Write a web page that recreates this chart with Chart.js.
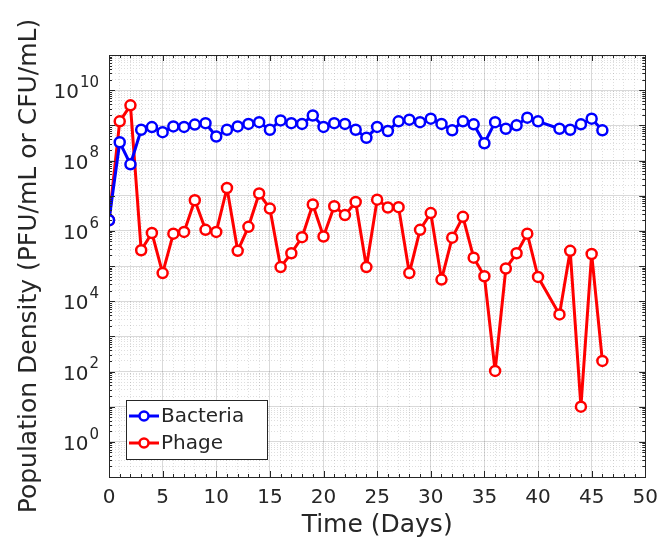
<!DOCTYPE html>
<html>
<head>
<meta charset="utf-8">
<script src="https://cdn.jsdelivr.net/npm/chart.js@4.4.0/dist/chart.umd.min.js"></script>
<style>
  html, body { margin: 0; padding: 0; background: #fff; }
</style>
</head>
<body>
<canvas id="myChart" width="667" height="542"></canvas>
<script>
// sampling days (day 41 was not measured)
var days = [0, 1, 2, 3, 4, 5, 6, 7, 8, 9, 10,
            11, 12, 13, 14, 15, 16, 17, 18, 19, 20,
            21, 22, 23, 24, 25, 26, 27, 28, 29, 30,
            31, 32, 33, 34, 35, 36, 37, 38, 39, 40,
            42, 43, 44, 45, 46];

var bacteria = [2e6, 3.3e8, 7.8e7, 7.5e8, 8.9e8, 6.4e8, 9.3e8, 9e8, 1.05e9, 1.15e9, 4.8e8,
                7.5e8, 9.3e8, 1.1e9, 1.23e9, 7.5e8, 1.38e9, 1.15e9, 1.1e9, 1.9e9, 9e8,
                1.15e9, 1.1e9, 7.5e8, 4.4e8, 9e8, 6.9e8, 1.3e9, 1.45e9, 1.23e9, 1.55e9,
                1.1e9, 7.2e8, 1.3e9, 1.07e9, 3.1e8, 1.23e9, 8e8, 1e9, 1.65e9, 1.3e9,
                8e8, 7.5e8, 1.07e9, 1.55e9, 7.2e8];

var phage = [2e6, 1.3e9, 3.7e9, 2.8e5, 8.7e5, 6.3e4, 8.3e5, 9.3e5, 7.4e6, 1.07e6, 9.3e5,
             1.65e7, 2.7e5, 1.3e6, 1.15e7, 4.3e6, 9.3e4, 2.3e5, 6.6e5, 5.6e6, 6.9e5,
             5e6, 2.8e6, 6.6e6, 9.3e4, 7.7e6, 4.6e6, 4.7e6, 6.3e4, 1.07e6, 3.2e6,
             4.1e4, 6.4e5, 2.5e6, 1.73e5, 5.1e4, 104, 8.5e4, 2.3e5, 8.3e5, 4.9e4,
             4.2e3, 2.7e5, 10, 2.2e5, 200];

var seriesNames = ['Bacteria', 'Phage'];
var xTickLabels = [0, 5, 10, 15, 20, 25, 30, 35, 40, 45, 50];
var yTickPowers = [0, 2, 4, 6, 8, 10];

var FONT = "'DejaVu Sans', sans-serif";
var TEXT = '#262626';

function toPoints(ys) {
    return days.map(function (d, i) { return { x: d, y: ys[i] }; });
}

function isDecade(v) {
    var l = Math.log10(v);
    return Math.abs(l - Math.round(l)) < 1e-6;
}

// all log ticks 1..9 x 10^k for the grid
function logTicks(min, max) {
    var out = [];
    for (var k = Math.round(Math.log10(min)); k <= Math.round(Math.log10(max)); k++) {
        for (var m = 1; m <= 9; m++) {
            var v = m * Math.pow(10, k);
            if (v >= min * 0.999 && v <= max * 1.001) out.push({ value: v });
        }
    }
    return out;
}

// y labels as 10 with raised exponent, tick marks, full box and legend
var matlabLook = {
    id: 'matlabLook',
    afterDraw: function (chart) {
        var ctx = chart.ctx;
        var a = chart.chartArea;
        var xs = chart.scales.x, ys = chart.scales.y;
        ctx.save();

        // inner tick marks on all four sides
        ctx.strokeStyle = TEXT;
        ctx.lineWidth = 1;
        ctx.beginPath();
        xs.ticks.forEach(function (t) {
            var px = Math.round(xs.getPixelForValue(t.value)) + 0.5;
            var len = t.value % 5 === 0 ? 6 : 3;
            ctx.moveTo(px, a.bottom); ctx.lineTo(px, a.bottom - len);
            ctx.moveTo(px, a.top); ctx.lineTo(px, a.top + len);
        });
        ys.ticks.forEach(function (t) {
            var py = Math.round(ys.getPixelForValue(t.value)) + 0.5;
            var len = isDecade(t.value) ? 6 : 3;
            ctx.moveTo(a.left, py); ctx.lineTo(a.left + len, py);
            ctx.moveTo(a.right, py); ctx.lineTo(a.right - len, py);
        });
        ctx.stroke();

        // box
        ctx.strokeRect(Math.round(a.left) + 0.5, Math.round(a.top) + 0.5,
                       Math.round(a.right - a.left), Math.round(a.bottom - a.top));

        // y tick labels
        ctx.fillStyle = TEXT;
        ctx.textBaseline = 'middle';
        ctx.textAlign = 'left';
        yTickPowers.forEach(function (p) {
            var py = ys.getPixelForValue(Math.pow(10, p));
            var base = '10', expo = String(p);
            ctx.font = '20px ' + FONT;
            var wb = ctx.measureText(base).width;
            ctx.font = '15px ' + FONT;
            var we = ctx.measureText(expo).width;
            var right = a.left - 10;
            ctx.font = '20px ' + FONT;
            ctx.fillText(base, right - we - wb - 1, py + 3);
            ctx.font = '15px ' + FONT;
            ctx.fillText(expo, right - we, py - 7);
        });

        // legend, south-west corner
        var lx = 126, ly = 400, lw = 141, lh = 59;
        ctx.fillStyle = '#fff';
        ctx.fillRect(lx, ly, lw, lh);
        ctx.strokeStyle = TEXT;
        ctx.lineWidth = 1;
        ctx.strokeRect(lx + 0.5, ly + 0.5, lw, lh);
        chart.data.datasets.forEach(function (ds, i) {
            var cy = ly + 16 + i * 27;
            ctx.strokeStyle = ds.borderColor;
            ctx.lineWidth = 3;
            ctx.beginPath();
            ctx.moveTo(lx + 3, cy); ctx.lineTo(lx + 33, cy);
            ctx.stroke();
            ctx.fillStyle = '#fff';
            ctx.lineWidth = 2.5;
            ctx.beginPath();
            ctx.arc(lx + 18, cy, 4.5, 0, Math.PI * 2);
            ctx.fill(); ctx.stroke();
            ctx.fillStyle = TEXT;
            ctx.font = '20px ' + FONT;
            ctx.textAlign = 'left';
            ctx.textBaseline = 'middle';
            ctx.fillText(ds.label, lx + 35, cy + 1);
        });
        ctx.restore();
    }
};

var ctx1 = document.getElementById('myChart').getContext('2d');
new Chart(ctx1, {
    type: 'line',
    data: {
        datasets: [{
            label: seriesNames[0],
            data: toPoints(bacteria),
            borderColor: '#0000ff',
            backgroundColor: '#ffffff',
            borderWidth: 3,
            borderJoinStyle: 'round',
            pointRadius: 5,
            pointBorderWidth: 2.5,
            pointBackgroundColor: '#ffffff',
            tension: 0
        }, {
            label: seriesNames[1],
            data: toPoints(phage),
            borderColor: '#ff0000',
            backgroundColor: '#ffffff',
            borderWidth: 3,
            borderJoinStyle: 'round',
            pointRadius: 5,
            pointBorderWidth: 2.5,
            pointBackgroundColor: '#ffffff',
            tension: 0
        }]
    },
    options: {
        responsive: false,
        animation: false,
        layout: { padding: { left: 0, right: 16, top: 55, bottom: 0 } },
        plugins: {
            legend: { display: false },
            tooltip: { enabled: false }
        },
        scales: {
            x: {
                type: 'linear',
                min: 0,
                max: 50,
                afterBuildTicks: function (scale) {
                    var t = [];
                    for (var i = 0; i <= 50; i++) t.push({ value: i });
                    scale.ticks = t;
                },
                afterFit: function (scale) { scale.height = 65; },
                ticks: {
                    autoSkip: false,
                    maxRotation: 0,
                    padding: 9,
                    color: TEXT,
                    font: { family: FONT, size: 20 },
                    callback: function (v) {
                        return xTickLabels.indexOf(v) >= 0 ? String(v) : '';
                    }
                },
                grid: {
                    drawTicks: false,
                    color: function (c) {
                        return c.tick && c.tick.value % 5 === 0 ? 'rgba(0,0,0,0.15)' : 'rgba(0,0,0,0.13)';
                    },
                    lineWidth: 1
                },
                border: {
                    display: false,
                    dash: function (c) {
                        return c.tick && c.tick.value % 5 !== 0 ? [1, 2] : [];
                    }
                },
                title: {
                    display: true,
                    text: 'Time (Days)',
                    color: TEXT,
                    font: { family: FONT, size: 25 },
                    padding: { top: 0, bottom: 2 }
                }
            },
            y: {
                type: 'logarithmic',
                min: 0.1,
                max: 1e11,
                afterBuildTicks: function (scale) {
                    scale.ticks = logTicks(0.1, 1e11);
                },
                afterFit: function (scale) { scale.width = 109; },
                ticks: { display: false },
                grid: {
                    drawTicks: false,
                    color: function (c) {
                        return c.tick && isDecade(c.tick.value) ? 'rgba(0,0,0,0.15)' : 'rgba(0,0,0,0.13)';
                    },
                    lineWidth: 1
                },
                border: {
                    display: false,
                    dash: function (c) {
                        return c.tick && !isDecade(c.tick.value) ? [1, 2] : [];
                    }
                },
                title: {
                    display: true,
                    text: 'Population Density (PFU/mL or CFU/mL)',
                    color: TEXT,
                    font: { family: FONT, size: 25 },
                    padding: { top: 14, bottom: 0 }
                }
            }
        }
    },
    plugins: [matlabLook]
});
</script>
</body>
</html>
